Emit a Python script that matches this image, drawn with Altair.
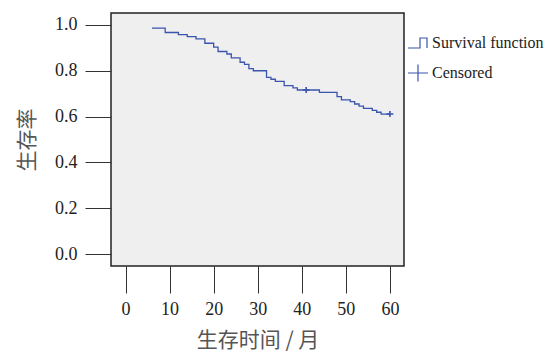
import altair as alt
import pandas as pd

# Kaplan-Meier step data (months, survival)
times = [6, 9, 12, 14, 16, 18, 20, 21, 23, 24, 26, 27, 28, 29, 32, 33, 34, 36, 38, 39,
         44, 48, 49, 51, 52, 53, 54, 56, 57, 58, 60]
surv = [0.986, 0.967, 0.958, 0.949, 0.939, 0.920, 0.903, 0.884, 0.873, 0.856, 0.837,
        0.828, 0.809, 0.800, 0.771, 0.763, 0.754, 0.735, 0.725, 0.716, 0.706, 0.687,
        0.673, 0.665, 0.655, 0.646, 0.636, 0.627, 0.619, 0.611, 0.611]

cens_times = [41, 60]
cens_surv = [0.716, 0.611]

legend_labels = ["Survival function", "Censored"]
x_ticks = [0, 10, 20, 30, 40, 50, 60]
y_ticks = [0.0, 0.2, 0.4, 0.6, 0.8, 1.0]

BLUE = "#3a55ad"
step_path = "M-1,0.5H0.2V-0.5H0.9V0.5"
cross_path = "M-1,0H1M0,-0.85V0.85"

df_line = pd.DataFrame({"t": times, "s": surv, "label": legend_labels[0]})
df_cens = pd.DataFrame({"t": cens_times, "s": cens_surv, "label": legend_labels[1]})

xscale = alt.Scale(domain=[-3.3, 63.2], nice=False, zero=False)
yscale = alt.Scale(domain=[-0.052, 1.052], nice=False, zero=False)

xaxis = alt.Axis(values=x_ticks, title="生存时间 / 月", format="d", grid=False,
                 domain=False, tickSize=27, tickColor="#333", tickWidth=1,
                 labelFont="Liberation Serif", labelFontSize=18, labelColor="#222",
                 labelPadding=7, titleFont="Noto Sans CJK SC", titleFontSize=21,
                 titleFontWeight="normal", titleColor="#555", titlePadding=11)
yaxis = alt.Axis(values=y_ticks, title="生存率", format=".1f", grid=False,
                 domain=False, tickSize=26, tickColor="#333", tickWidth=1,
                 labelFont="Liberation Serif", labelFontSize=18, labelColor="#222",
                 labelPadding=8, titleFont="Noto Sans CJK SC", titleFontSize=21,
                 titleFontWeight="normal", titleColor="#555", titlePadding=17)

line = alt.Chart(df_line).mark_line(interpolate="step-after", color=BLUE, strokeWidth=1.3).encode(
    x=alt.X("t:Q", scale=xscale, axis=xaxis),
    y=alt.Y("s:Q", scale=yscale, axis=yaxis),
)

pts = alt.Chart(df_cens).mark_point(filled=False, color=BLUE, strokeWidth=1.6, size=49, opacity=1).encode(
    x=alt.X("t:Q", scale=xscale),
    y=alt.Y("s:Q", scale=yscale),
    shape=alt.Shape("label:N",
                    scale=alt.Scale(domain=legend_labels, range=[step_path, cross_path]),
                    legend=alt.Legend(title=None, orient="none", legendX=296, legendY=19,
                                      symbolSize=400, symbolStrokeColor=BLUE,
                                      symbolFillColor="transparent", symbolStrokeWidth=1.2,
                                      labelFont="Liberation Serif", labelFontSize=16,
                                      labelColor="#222", labelOffset=3, rowPadding=11,
                                      padding=0)),
)

chart = alt.layer(line, pts).properties(
    width=293, height=253,
    autosize=alt.AutoSizeParams(type="none"),
    padding={"left": 103, "top": 5, "right": 141, "bottom": 88},
).configure_view(
    fill="#efefef", stroke="#222", strokeWidth=1.5
)

chart.save("out.html", embed_options={"renderer": "svg", "actions": False})
